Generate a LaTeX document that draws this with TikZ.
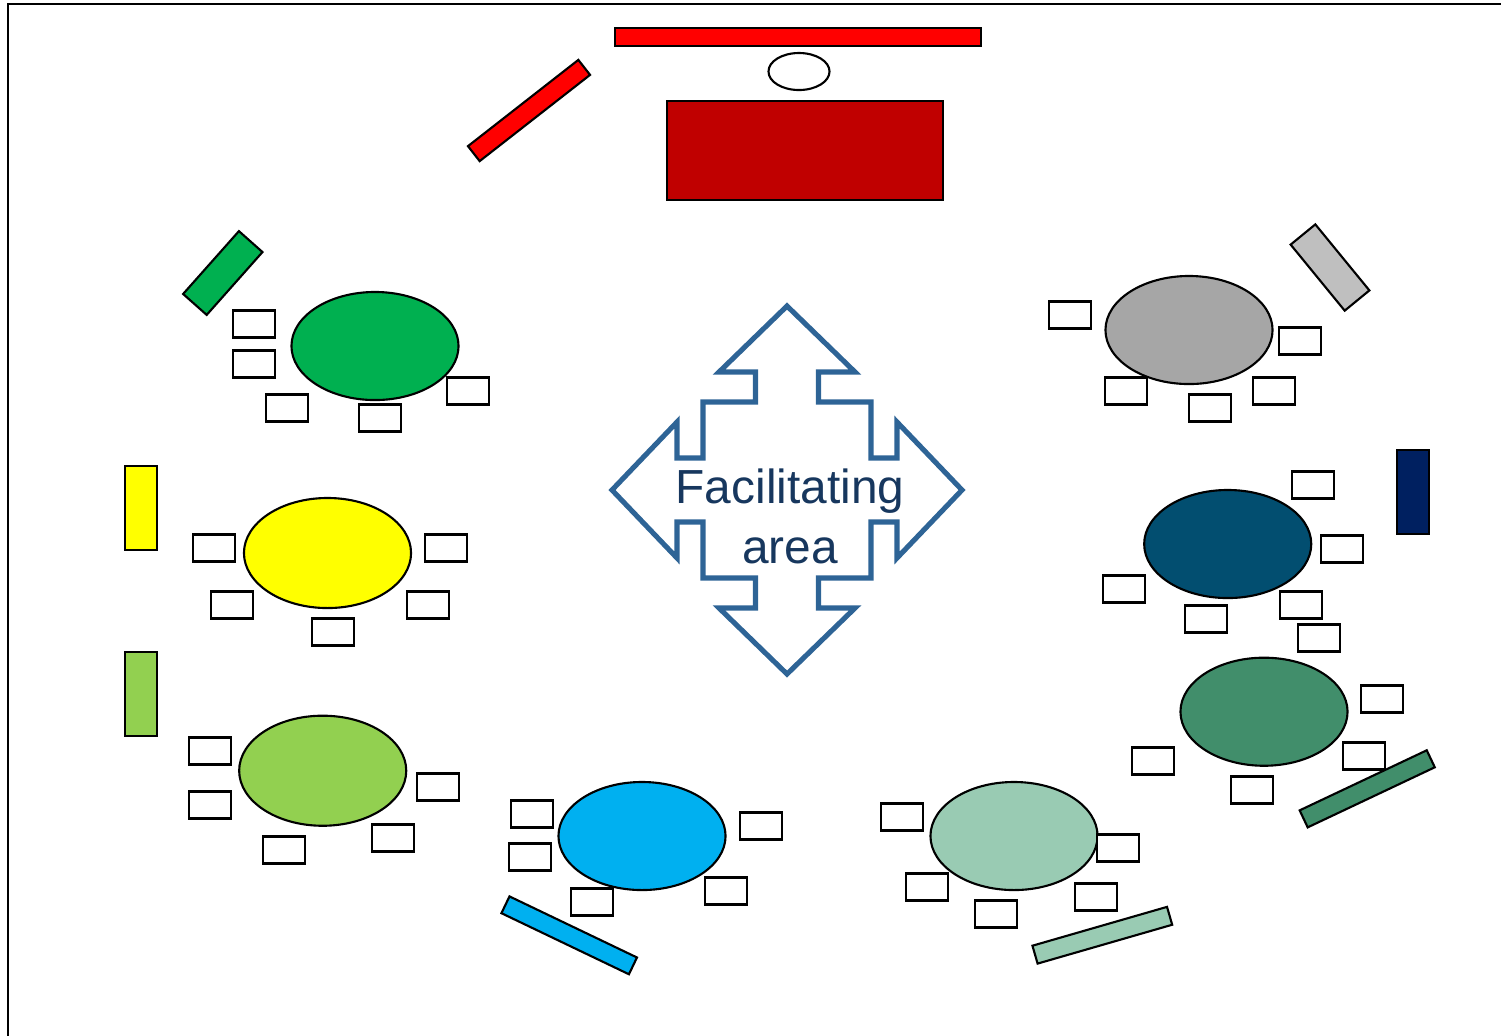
\documentclass[tikz,border=0pt]{standalone}
\usepackage{fontspec}
\newfontfamily\arealabel{Liberation Sans}
\usetikzlibrary{shapes.geometric}
\definecolor{stagered}{HTML}{C00000}
\definecolor{tgreen}{HTML}{00B050}
\definecolor{tgray}{HTML}{A6A6A6}
\definecolor{tgraybar}{HTML}{BFBFBF}
\definecolor{tyellow}{HTML}{FFFF00}
\definecolor{tlime}{HTML}{92D050}
\definecolor{tblue}{HTML}{00B0F0}
\definecolor{tmint}{HTML}{99CBB3}
\definecolor{tteal}{HTML}{418E6B}
\definecolor{tpetrol}{HTML}{024E70}
\definecolor{tnavy}{HTML}{002060}
\definecolor{arrowblue}{HTML}{2E6496}
\definecolor{labelblue}{HTML}{17375E}

\begin{document}
\begin{tikzpicture}[x=0.01cm,y=-0.01cm,
    chair/.style={draw,fill=white,line width=0.6pt,inner sep=0pt,minimum width=0.42cm,minimum height=0.27cm},
    rtable/.style={ellipse,draw,line width=0.6pt,inner sep=0pt,minimum width=1.67cm,minimum height=1.08cm},
    bar/.style={draw,line width=0.6pt,inner sep=0pt}]
  \useasboundingbox (0,0) rectangle (1501,1035);
  \draw[line width=0.6pt] (8,1100) -- (8,4) -- (1600,4);

  \node[bar,fill=red,minimum width=3.66cm,minimum height=0.18cm] (screen) at (798,37) {};
  \node[ellipse,draw,line width=0.6pt,inner sep=0pt,minimum width=0.61cm,minimum height=0.37cm] (speaker) at (799,71.5) {};
  \node[bar,fill=stagered,minimum width=2.76cm,minimum height=0.99cm] (stage) at (805,150.5) {};
  \node[bar,fill=red,minimum width=1.40cm,minimum height=0.19cm,rotate=38] (redbar) at (529,110.5) {};

  \draw[arrowblue,line width=1.45pt,line join=miter,shift={(787,490)}]
    (0,-184) -- (68,-118) -- (31.5,-118) -- (31.5,-88) -- (84,-88) -- (84,-32) -- (110,-32) -- (110,-68)
    -- (175,0) -- (110,68) -- (110,32) -- (84,32) -- (84,88) -- (31.5,88) -- (31.5,118) -- (68,118)
    -- (0,184) -- (-68,118) -- (-31.5,118) -- (-31.5,88) -- (-84,88) -- (-84,32) -- (-110,32) -- (-110,68)
    -- (-175,0) -- (-110,-68) -- (-110,-32) -- (-84,-32) -- (-84,-88) -- (-31.5,-88) -- (-31.5,-118) -- (-68,-118) -- cycle;
  \node[align=center,inner sep=0pt,text=labelblue,font=\arealabel\fontsize{13.6pt}{17pt}\selectfont] (area) at (790,516) {Facilitating\\area};

  \node[rtable,fill=tgreen] (green) at (375,346) {};
  \node[bar,fill=tgreen,minimum width=0.84cm,minimum height=0.315cm,rotate=48.4] (greenbar) at (222.8,273) {};
  \node[chair] (cg1) at (254,324) {};
  \node[chair] (cg2) at (254,364) {};
  \node[chair] (cg3) at (287,408) {};
  \node[chair] (cg4) at (380,418) {};
  \node[chair] (cg5) at (468,391) {};

  \node[rtable,fill=tgray] (gray) at (1189,330) {};
  \node[bar,fill=tgraybar,minimum width=0.853cm,minimum height=0.319cm,rotate=-50.7] (graybar) at (1330,267.5) {};
  \node[chair] (cs1) at (1070,315) {};
  \node[chair] (cs2) at (1300,341) {};
  \node[chair] (cs3) at (1126,391) {};
  \node[chair] (cs4) at (1210,408) {};
  \node[chair] (cs5) at (1274,391) {};

  \node[rtable,fill=tyellow,minimum height=1.10cm] (yellow) at (327.5,553) {};
  \node[bar,fill=tyellow,minimum width=0.32cm,minimum height=0.84cm] (yellowbar) at (141,508) {};
  \node[chair] (cy1) at (214,548) {};
  \node[chair] (cy2) at (232,605) {};
  \node[chair] (cy3) at (333,632) {};
  \node[chair] (cy4) at (428,605) {};
  \node[chair] (cy5) at (446,548) {};

  \node[rtable,fill=tlime,minimum height=1.10cm] (lime) at (322.7,770.7) {};
  \node[bar,fill=tlime,minimum width=0.32cm,minimum height=0.84cm] (limebar) at (141,694) {};
  \node[chair] (cl1) at (210,751) {};
  \node[chair] (cl2) at (210,805) {};
  \node[chair] (cl3) at (284,850) {};
  \node[chair] (cl4) at (393,838) {};
  \node[chair] (cl5) at (438,787) {};

  \node[rtable,fill=tblue] (blue) at (642,836) {};
  \node[bar,fill=tblue,minimum width=1.413cm,minimum height=0.186cm,rotate=-25.6] (bluebar) at (569.2,935.3) {};
  \node[chair] (cb1) at (532,814) {};
  \node[chair] (cb2) at (530,857) {};
  \node[chair] (cb3) at (592,902) {};
  \node[chair] (cb4) at (726,891) {};
  \node[chair] (cb5) at (761,826) {};

  \node[rtable,fill=tmint] (mint) at (1014,836) {};
  \node[bar,fill=tmint,minimum width=1.40cm,minimum height=0.186cm,rotate=16.1] (mintbar) at (1102.3,935.2) {};
  \node[chair] (cm1) at (902,817) {};
  \node[chair] (cm2) at (927,887) {};
  \node[chair] (cm3) at (996,914) {};
  \node[chair] (cm4) at (1096,897) {};
  \node[chair] (cm5) at (1118,848) {};

  \node[rtable,fill=tpetrol] (petrol) at (1227.7,544) {};
  \node[bar,fill=tnavy,minimum width=0.32cm,minimum height=0.84cm] (navybar) at (1413,492) {};
  \node[chair] (cp1) at (1313,485) {};
  \node[chair] (cp2) at (1342,549) {};
  \node[chair] (cp3) at (1124,589) {};
  \node[chair] (cp4) at (1206,619) {};
  \node[chair] (cp5) at (1301,605) {};
  \node[chair] (cp6) at (1319,638) {};

  \node[rtable,fill=tteal] (teal) at (1264,711.7) {};
  \node[bar,fill=tteal,minimum width=1.405cm,minimum height=0.188cm,rotate=25.3] (tealbar) at (1367.2,788.8) {};
  \node[chair] (ct1) at (1382,699) {};
  \node[chair] (ct2) at (1364,756) {};
  \node[chair] (ct3) at (1153,761) {};
  \node[chair] (ct4) at (1252,790) {};
\end{tikzpicture}
\end{document}
